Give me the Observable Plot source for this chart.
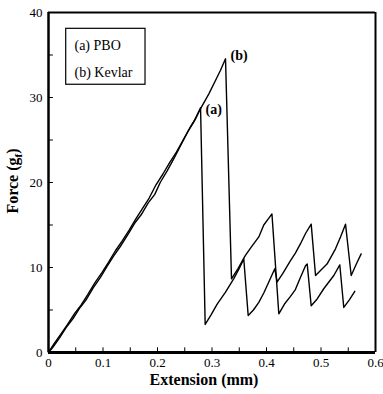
<!DOCTYPE html>
<html><head><meta charset="utf-8">
<script src="https://cdn.jsdelivr.net/npm/d3@7"></script>
<script src="https://cdn.jsdelivr.net/npm/@observablehq/plot@0.6"></script>
<style>body{margin:0;background:#fff}</style>
</head><body><div id="chart"></div>
<script>
// Data
const pboX = [0,0.008,0.02,0.032,0.045,0.058,0.07,0.082,0.095,0.108,0.12,0.132,0.145,0.158,0.17,0.183,0.195,0.205,0.218,0.23,0.242,0.255,0.267,0.279,
  0.2875,0.298,0.3095,0.3248,0.34,0.35,0.3583,0.3664,0.376,0.3859,0.395,0.4042,0.4152,0.4196,0.43,0.444,0.453,0.4624,0.4716,0.482,
  0.490,0.50,0.511,0.519,0.5266,0.5358,0.545,0.5554,0.564,0.5737];
const pboY = [0,0.6,1.7,2.9,4.0,5.3,6.3,7.6,8.8,10.2,11.4,12.5,13.8,15.2,16.2,17.6,18.6,20.0,21.4,22.8,24.3,25.9,27.2,28.8,
  3.3,4.4,5.7,7.1,8.7,9.9,11.0,4.35,5.0,5.9,7.0,8.3,9.85,8.3,9.3,10.8,11.7,12.8,14.0,15.1,
  9.06,9.7,10.4,11.3,12.2,13.6,15.1,9.06,10.3,11.6];
const kevX = [0,0.01,0.022,0.035,0.048,0.06,0.072,0.085,0.098,0.11,0.123,0.135,0.148,0.16,0.172,0.185,0.197,0.21,0.222,0.235,0.247,0.26,0.27,0.279,
  0.294,0.3064,0.3156,0.3248,0.3358,0.348,0.361,0.372,0.3859,0.395,0.403,0.410,0.4226,0.433,0.444,0.453,0.4624,0.4716,0.4747,
  0.482,0.493,0.505,0.5235,0.5345,0.5418,0.552,0.562];
const kevY = [0,1.0,2.1,3.3,4.6,5.6,6.8,8.2,9.4,10.6,12.0,13.1,14.4,15.7,16.9,18.2,19.7,21.0,22.3,23.6,25.0,26.5,27.5,28.7,
  30.4,32.0,33.2,34.55,8.67,9.9,11.4,12.4,13.6,15.0,15.7,16.3,4.55,5.7,6.6,7.4,8.86,10.2,10.4,
  5.5,6.3,7.5,9.06,10.3,5.3,6.2,7.2];
const seriesNames = ["(a) PBO", "(b) Kevlar"];
const peakLabels = ["(a)", "(b)"];
const xTicks = [0, 0.1, 0.2, 0.3, 0.4, 0.5, 0.6];
const yTicks = [0, 10, 20, 30, 40];
const xMinor = [0.05,0.1,0.15,0.2,0.25,0.3,0.35,0.4,0.45,0.5,0.55];
const yMinor = [5,10,15,20,25,30,35];
const xLabel = "Extension (mm)";

const pbo = pboX.map((x, i) => ({x, y: pboY[i]}));
const kev = kevX.map((x, i) => ({x, y: kevY[i]}));
const peakA = [{x: pboX[23], y: pboY[23], label: peakLabels[0]}];
const peakB = [{x: kevX[27], y: kevY[27], label: peakLabels[1]}];
const font = "'Liberation Serif','Times New Roman',serif";

const plot = Plot.plot({
  width: 383, height: 394,
  marginLeft: 48, marginRight: 8, marginTop: 12, marginBottom: 42,
  style: {fontFamily: font, background: "#fff", color: "#000"},
  x: {domain: [0, 0.6]},
  y: {domain: [0, 40]},
  marks: [
    Plot.axisX(xTicks, {tickSize: 0, tickPadding: 5, fontSize: 13, label: null,
      tickFormat: d => d === 0 ? "0" : String(d)}),
    Plot.axisY(yTicks, {tickSize: 0, tickPadding: 6, fontSize: 13, label: null}),
    Plot.ruleX(xMinor, {y1: 0, y2: 0.55, stroke: "#000", strokeWidth: 1}),
    Plot.ruleY(yMinor, {x1: 0, x2: 0.009, stroke: "#000", strokeWidth: 1}),
    Plot.ruleX([0], {stroke: "#000", strokeWidth: 2.5}),
    Plot.ruleY([0], {stroke: "#000", strokeWidth: 3}),
    Plot.ruleX([0.6], {stroke: "#000", strokeWidth: 2}),
    Plot.ruleY([40], {stroke: "#000", strokeWidth: 2}),
    Plot.line(pbo, {x: "x", y: "y", stroke: "#000", strokeWidth: 1.4}),
    Plot.line(kev, {x: "x", y: "y", stroke: "#000", strokeWidth: 1.4}),
    Plot.text(peakA, {x: "x", y: "y", text: "label", textAnchor: "start", dx: 5, dy: 2,
      fontWeight: "bold", fontSize: 14}),
    Plot.text(peakB, {x: "x", y: "y", text: "label", textAnchor: "start", dx: 5, dy: -3,
      fontWeight: "bold", fontSize: 14}),
    Plot.rect([0], {x1: () => 0.0325, x2: () => 0.178, y1: () => 31.5, y2: () => 38.08,
      fill: "none", stroke: "#000", strokeWidth: 1.2}),
    Plot.text(seriesNames, {x: () => 0.0477, y: (d, i) => [36.1, 32.9][i], textAnchor: "start", fontSize: 14}),
    Plot.text([xLabel], {frameAnchor: "bottom", lineAnchor: "middle", dy: 27, dx: -8, fontWeight: "bold", fontSize: 16})
  ]
});

// y-axis label with subscript
const svg = d3.select(plot);
const t = svg.append("text")
  .attr("transform", "translate(18,181) rotate(-90)")
  .attr("text-anchor", "middle")
  .attr("font-family", font)
  .attr("font-weight", "bold")
  .attr("font-size", 16)
  .attr("fill", "#000");
t.append("tspan").text("Force (g");
t.append("tspan").attr("font-size", 11).attr("dy", 4).text("f");
t.append("tspan").attr("dy", -4).text(")");

document.getElementById("chart").appendChild(plot);
</script>
</body></html>
